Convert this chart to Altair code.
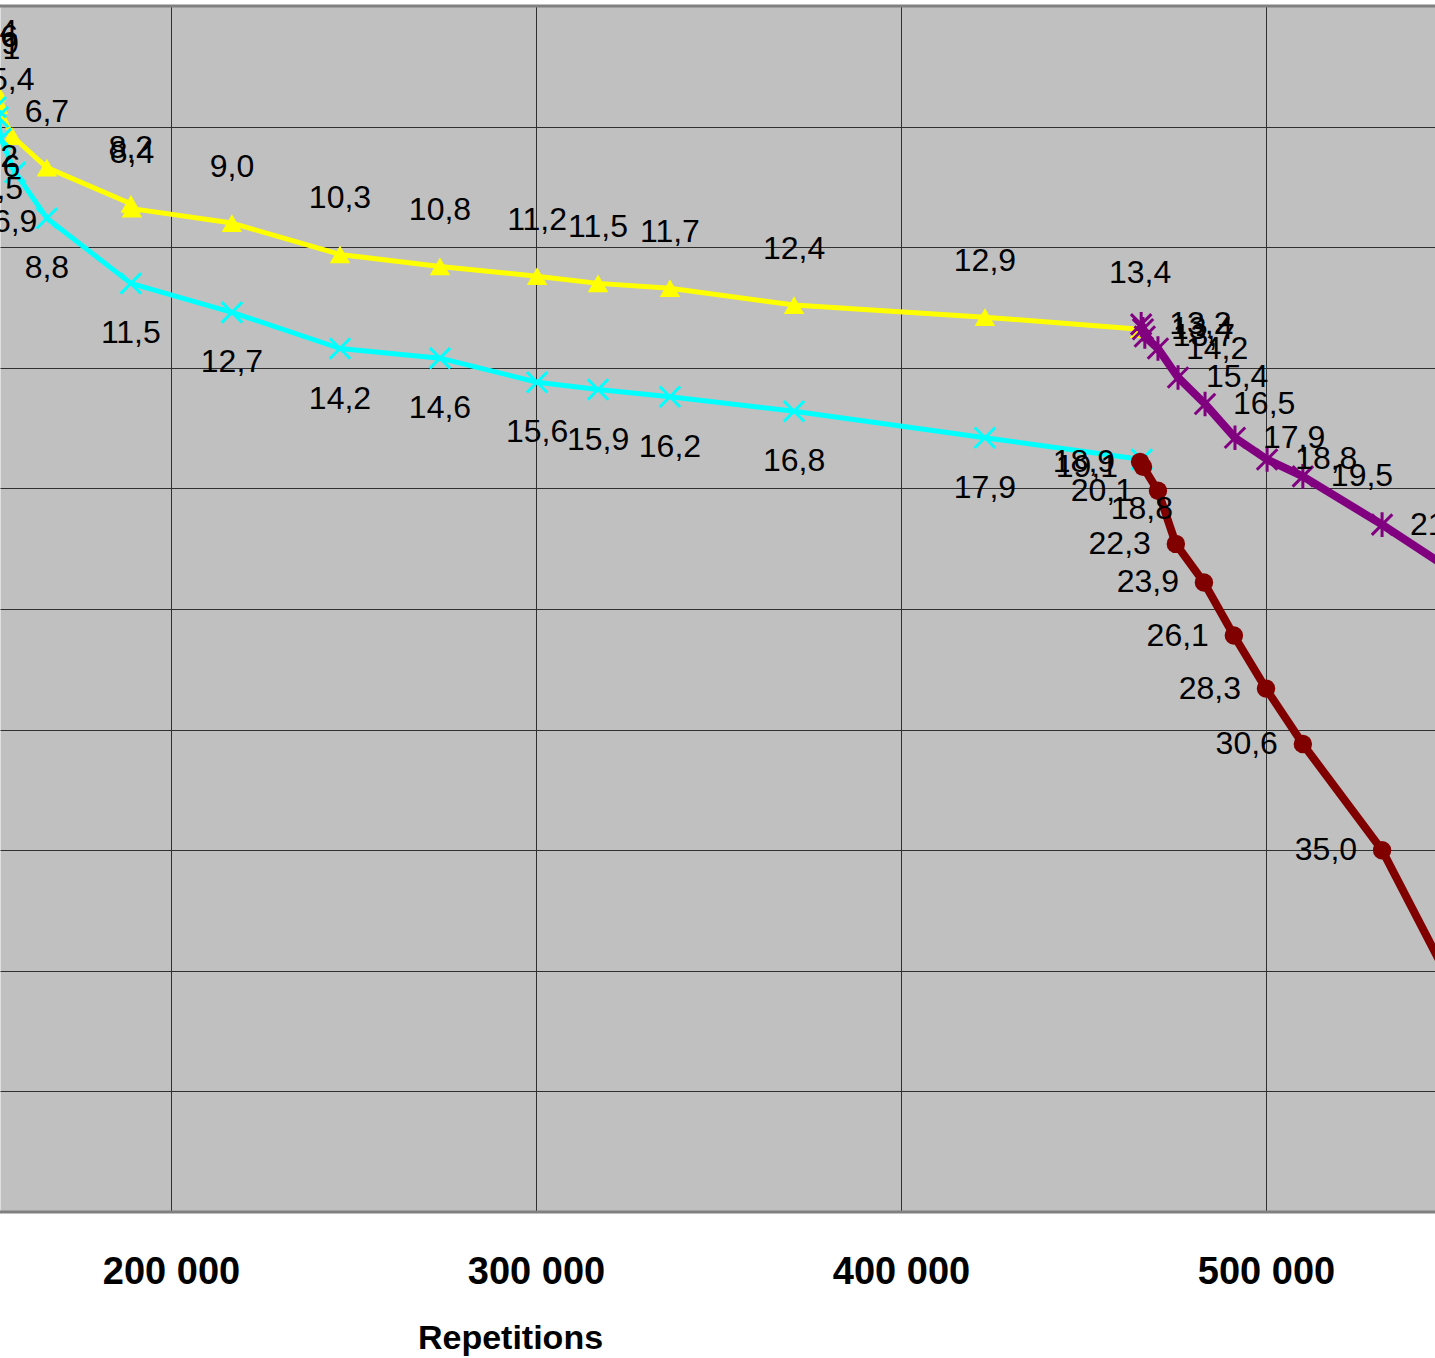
import altair as alt
import pandas as pd

# ---- data ----
yellow_reps = [151800, 152000, 152300, 152600, 156500, 166000, 189000, 189300, 216700, 246300,
               273700, 300300, 317000, 336700, 370700, 423000, 465500]
yellow_vals = [3.4, 3.6, 3.9, 4.1, 5.4, 6.7, 8.2, 8.4, 9.0, 10.3,
               10.8, 11.2, 11.5, 11.7, 12.4, 12.9, 13.4]

cyan_reps = [146000, 152000, 152600, 153400, 157300, 166000, 189000, 216700, 246300, 273700,
             300300, 317000, 336700, 370700, 423000, 466000]
cyan_vals = [3.0, 4.2, 4.6, 5.5, 6.9, 8.8, 11.5, 12.7, 14.2, 14.6,
             15.6, 15.9, 16.2, 16.8, 17.9, 18.8]

red_reps = [465500, 466300, 470400, 475300, 483000, 491200, 500000, 510100, 531800, 575000]
red_vals = [18.9, 19.1, 20.1, 22.3, 23.9, 26.1, 28.3, 30.6, 35.0, 47.6]

purple_reps = [465800, 466300, 466800, 470400, 475900, 483300, 491500, 500300, 510100, 531800, 575000]
purple_vals = [13.2, 13.4, 13.7, 14.2, 15.4, 16.5, 17.9, 18.8, 19.5, 21.5, 25.8]

x_ticks = [100000, 200000, 300000, 400000, 500000, 600000]
y_ticks = [0, 5, 10, 15, 20, 25, 30, 35, 40, 45, 50]

FONT = "Liberation Sans"

xscale = alt.Scale(domain=[153151, 546301], nice=False, zero=False)
yscale = alt.Scale(domain=[0, 50], reverse=True, nice=False, zero=False)

xaxis = alt.Axis(values=x_ticks, grid=True, gridColor="#303030", gridWidth=1, gridOpacity=1,
                 domain=False, ticks=False,
                 labelExpr="format(datum.value / 1000, 'd') + ' 000'",
                 labelFont=FONT, labelFontSize=38, labelFontWeight="bold", labelColor="black",
                 labelPadding=41, labelFlush=False, labelOverlap=False,
                 title="Repetitions", titleFont=FONT, titleFontSize=34, titleFontWeight="bold",
                 titleColor="black", titleX=510, titleY=126, titleBaseline="middle",
                 titleAlign="center")
yaxis = alt.Axis(values=y_ticks, grid=True, gridColor="#303030", gridWidth=1, gridOpacity=1,
                 domain=False, ticks=False, labels=False, title=None)


def make_df(reps, vals):
    return pd.DataFrame({
        "reps": reps,
        "val": vals,
        "label": [f"{v:.1f}".replace(".", ",") for v in vals],
    })


def series(reps, vals, color, line_w, shape, size, filled, mark_sw, text_kw):
    df = make_df(reps, vals)
    base = alt.Chart(df).encode(
        x=alt.X("reps:Q", scale=xscale, axis=xaxis),
        y=alt.Y("val:Q", scale=yscale, axis=yaxis),
        order=alt.Order("reps:Q"),
    )
    line = base.mark_line(color=color, strokeWidth=line_w, clip=True, strokeJoin="round")
    if filled:
        pts = base.mark_point(shape=shape, size=size, filled=True, color=color,
                              opacity=1, clip=True)
    else:
        pts = base.mark_point(shape=shape, size=size, filled=False, stroke=color,
                              strokeWidth=mark_sw, opacity=1, clip=True)
    txt = base.mark_text(font=FONT, fontSize=32, color="black", clip=True,
                         **text_kw).encode(text="label:N")
    return line, pts, txt


X_SHAPE = "M-1,-1L1,1M1,-1L-1,1"
STAR_SHAPE = "M-1,-1L1,1M1,-1L-1,1M0,-1.2L0,1.2"

yl, yp, yt = series(yellow_reps, yellow_vals, "#FFFF00", 5, "triangle-up", 420, True, 0,
                    dict(align="center", baseline="middle", dy=-56))
cl, cp, ct = series(cyan_reps, cyan_vals, "#00FFFF", 5, X_SHAPE, 420, False, 3,
                    dict(align="center", baseline="middle", dy=50))
rl, rp, rt = series(red_reps, red_vals, "#800000", 8, "circle", 340, True, 0,
                    dict(align="right", baseline="middle", dx=-25))
pl, pp, pt = series(purple_reps, purple_vals, "#800080", 8, STAR_SHAPE, 420, False, 3,
                    dict(align="left", baseline="middle", dx=28))

border = alt.Chart(pd.DataFrame({"v": [0, 50]})).mark_rule(
    color="#808080", strokeWidth=3).encode(
    y=alt.Y("v:Q", scale=yscale, axis=yaxis))

chart = alt.layer(
    border,
    yl, yp, cl, cp, rl, rp, pl, pp,
    yt, ct, rt, pt,
).properties(
    width=1435, height=1206,
    autosize=alt.AutoSizeParams(type="none"),
    padding={"left": 0, "right": 0, "top": 6, "bottom": 146},
    background="white",
).configure_view(fill="#C0C0C0", stroke="transparent")

chart.save("out.html", embed_options={"renderer": "svg", "actions": False})
